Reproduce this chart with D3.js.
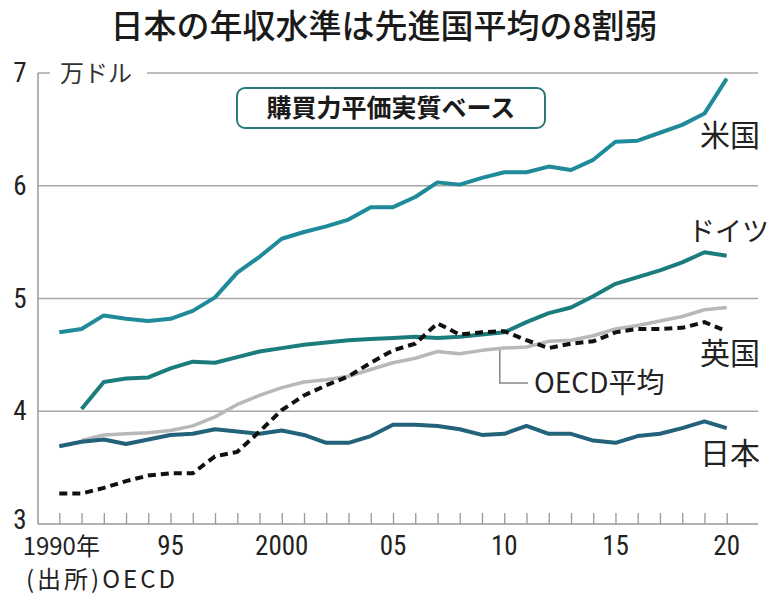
<!DOCTYPE html>
<html><head><meta charset="utf-8">
<script src="https://cdn.jsdelivr.net/npm/d3@7"></script>
<style>
html,body{margin:0;padding:0;background:#fff;}
svg{display:block;}
</style></head>
<body><svg id="c" width="768" height="594"></svg>
<script>
const years = d3.range(1990, 2021);
const usValues = [4.70,4.73,4.85,4.82,4.80,4.82,4.89,5.01,5.23,5.37,5.53,5.59,5.64,5.70,5.81,5.81,5.90,6.03,6.01,6.07,6.12,6.12,6.17,6.14,6.23,6.39,6.40,6.47,6.54,6.64,6.95];
const germanyValues = [null,4.02,4.26,4.29,4.30,4.38,4.44,4.43,4.48,4.53,4.56,4.59,4.61,4.63,4.64,4.65,4.66,4.65,4.66,4.68,4.70,4.79,4.87,4.92,5.02,5.13,5.19,5.25,5.32,5.41,5.38];
const ukValues = [3.27,3.27,3.32,3.38,3.43,3.45,3.45,3.60,3.64,3.82,4.01,4.14,4.23,4.31,4.43,4.54,4.60,4.78,4.68,4.70,4.71,4.63,4.56,4.60,4.62,4.70,4.73,4.73,4.74,4.79,4.71];
const oecdValues = [null,3.74,3.79,3.80,3.81,3.83,3.87,3.95,4.06,4.14,4.21,4.26,4.28,4.31,4.37,4.43,4.47,4.53,4.51,4.54,4.56,4.57,4.62,4.63,4.67,4.73,4.76,4.80,4.84,4.90,4.92];
const japanValues = [3.69,3.73,3.75,3.71,3.75,3.79,3.80,3.84,3.82,3.80,3.83,3.79,3.72,3.72,3.78,3.88,3.88,3.87,3.84,3.79,3.80,3.87,3.80,3.80,3.74,3.72,3.78,3.80,3.85,3.91,3.85];
const yTicks = [3,4,5,6,7];
const xLabelYears = [1990,1995,2000,2005,2010,2015,2020];
const xLabelTexts = ["1990年","95","2000","05","10","15","20"];
const title = "日本の年収水準は先進国平均の8割弱";
const unitLabel = "万ドル";
const boxLabel = "購買力平価実質ベース";
const sourceLabel = "(出所)OECD";

const svg = d3.select("#c");
const jp = "'Noto Sans CJK JP', sans-serif";
const num = "'Liberation Sans Narrow', 'Roboto Condensed', 'Liberation Sans', sans-serif";

const x = d3.scaleLinear().domain([1990, 2020]).range([59.3, 726.7]);
const y = d3.scaleLinear().domain([3, 7]).range([524, 73]);
const axisX = 38, rightX = 758;

// title
svg.append("text").attr("x", 384).attr("y", 38).attr("text-anchor", "middle")
  .attr("font-family", jp).attr("font-size", 33).attr("font-weight", 500).attr("fill", "#1a1a1a").text(title);

// grid lines
const gridCol = "#a8a8a8";
yTicks.filter(v => v > 3 && v < 7).forEach(v => {
  svg.append("line").attr("x1", axisX).attr("x2", rightX).attr("y1", y(v)).attr("y2", y(v))
    .attr("stroke", gridCol).attr("stroke-width", 1.5);
});
svg.append("line").attr("x1", axisX).attr("x2", 50).attr("y1", y(7)).attr("y2", y(7)).attr("stroke", gridCol).attr("stroke-width", 1.5);
svg.append("line").attr("x1", 147).attr("x2", rightX).attr("y1", y(7)).attr("y2", y(7)).attr("stroke", gridCol).attr("stroke-width", 1.5);
svg.append("text").attr("x", 60).attr("y", y(7) + 9).attr("font-family", jp).attr("font-size", 24).attr("fill", "#333").text(unitLabel);

// axes
svg.append("line").attr("x1", axisX).attr("x2", axisX).attr("y1", y(7)).attr("y2", y(3)).attr("stroke", "#999").attr("stroke-width", 1.5);
const xAxis = d3.axisBottom(x).tickValues(years).tickSize(-11).tickFormat("");
const gx = svg.append("g").attr("transform", `translate(0,${y(3)})`).call(xAxis);
gx.select(".domain").remove();
gx.selectAll(".tick line").attr("stroke", "#999").attr("stroke-width", 1.3);
svg.append("line").attr("x1", axisX).attr("x2", rightX).attr("y1", y(3)).attr("y2", y(3)).attr("stroke", "#999").attr("stroke-width", 1.5);

// y labels
yTicks.forEach(v => {
  svg.append("text").attr("x", 20).attr("y", y(v) + (v === 3 ? 5 : 9)).attr("text-anchor", "middle")
    .attr("font-family", num).attr("font-size", 27).attr("fill", "#222").text(v);
});
// x labels
xLabelYears.forEach((yr, i) => {
  svg.append("text").attr("x", x(yr) + (i === 0 ? 2 : 0)).attr("y", 555).attr("text-anchor", "middle")
    .attr("font-family", i === 0 ? jp : num).attr("font-size", i === 0 ? 24 : 27).attr("fill", "#222")
    .text(xLabelTexts[i]);
});
svg.append("text").attr("x", 26).attr("y", 588).attr("font-family", jp).attr("font-size", 24)
  .attr("letter-spacing", 3).attr("fill", "#222").text(sourceLabel);

// box
svg.append("rect").attr("x", 237).attr("y", 88).attr("width", 308).attr("height", 40).attr("rx", 8)
  .attr("fill", "#fff").attr("stroke", "#2a7a7c").attr("stroke-width", 2);
svg.append("text").attr("x", 391).attr("y", 117).attr("text-anchor", "middle").attr("font-family", jp)
  .attr("font-size", 25).attr("font-weight", 700).attr("fill", "#1a1a1a").text(boxLabel);

const line = d3.line().defined(d => d[1] != null).x(d => x(d[0])).y(d => y(d[1]));
const pairs = vals => years.map((yr, i) => [yr, vals[i]]);

svg.append("path").attr("d", line(pairs(oecdValues))).attr("fill", "none").attr("stroke", "#b8b8b8").attr("stroke-width", 3.5).attr("stroke-linejoin", "round");
svg.append("path").attr("d", line(pairs(japanValues))).attr("fill", "none").attr("stroke", "#22627a").attr("stroke-width", 4).attr("stroke-linejoin", "round");
svg.append("path").attr("d", line(pairs(germanyValues))).attr("fill", "none").attr("stroke", "#1b7c7e").attr("stroke-width", 4).attr("stroke-linejoin", "round");
svg.append("path").attr("d", line(pairs(usValues))).attr("fill", "none").attr("stroke", "#1f8a9a").attr("stroke-width", 4).attr("stroke-linejoin", "round");
svg.append("path").attr("d", line(pairs(ukValues))).attr("fill", "none").attr("stroke", "#111").attr("stroke-width", 4).attr("stroke-dasharray", "8,5");

// callout for OECD
const cx = x(2009.8), cy = y(oecdValues[20]) + 2;
svg.append("path").attr("d", `M${cx},${cy}V383H528`).attr("fill", "none").attr("stroke", "#888").attr("stroke-width", 1.5);
svg.append("text").attr("x", 534).attr("y", 393).attr("font-family", jp).attr("font-size", 28).attr("fill", "#222").text("OECD平均");

// series labels
const labels = [["米国", 700, 146, 30], ["ドイツ", 688, 241, 27], ["英国", 700, 364, 30], ["日本", 700, 464, 30]];
labels.forEach(l => {
  svg.append("text").attr("x", l[1]).attr("y", l[2]).attr("font-family", jp).attr("font-size", l[3]).attr("fill", "#222").text(l[0]);
});
</script></body></html>
